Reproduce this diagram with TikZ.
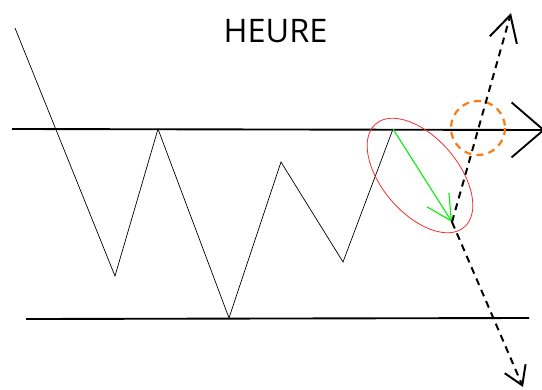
\documentclass[tikz,border=0pt]{standalone}
\usepackage{fontspec}
\newfontfamily\titlefont{Open Sans}
\usetikzlibrary{arrows.meta}
\definecolor{moveGreen}{RGB}{20,235,20}
\definecolor{zoneRed}{RGB}{240,50,50}
\definecolor{breakOrange}{RGB}{250,125,20}
\tikzset{
  levelline/.style = {line width=1.6pt},
  priceline/.style = {line width=0.6pt},
  movearr/.style   = {-{Straight Barb[length=7.5mm,width=7.8mm]},moveGreen,line width=1pt},
  scenario/.style  = {line width=1.7pt,dash pattern=on 6pt off 4.5pt},
  bigtip/.style    = {-{Straight Barb[length=7.8mm,width=8.4mm]}},
  smalltip/.style  = {-{Straight Barb[length=5.4mm,width=6.8mm]}}
}
\begin{document}
\begin{tikzpicture}[x=0.03cm,y=-0.03cm]
  \useasboundingbox (0,0) rectangle (542,389);
  \clip (0,0) rectangle (542,389);
  % price path
  \coordinate (p0) at (15,28);
  \coordinate (p1) at (115,276);
  \coordinate (p2) at (158,129);
  \coordinate (p3) at (229,318);
  \coordinate (p4) at (281,162);
  \coordinate (p5) at (343,262);
  \coordinate (p6) at (393,129);
  \coordinate (tip) at (452,222);
  % levels
  \coordinate (resL) at (12,129);
  \coordinate (resR) at (545,130);
  \coordinate (supL) at (26,319);
  \coordinate (supR) at (529,318);
  \coordinate (up) at (511,13);
  \coordinate (down) at (523,387);
  \node[font=\titlefont\fontsize{27.7}{30}\selectfont,inner sep=0pt] (title) at (275.5,31.5) {HEURE};
  \draw[levelline,-{Straight Barb[length=9.6mm,width=16.5mm]}] (resL) -- (resR);
  \draw[levelline] (supL) -- (supR);
  \draw[priceline] (p0) -- (p1) -- (p2) -- (p3) -- (p4) -- (p5) -- (p6);
  % zone and move
  \draw[zoneRed,line width=0.7pt,rotate around={-49.4:(420,175.5)}] (420,175.5) ellipse [x radius=68, y radius=38];
  \draw[movearr] (p6) -- (tip);
  \draw[breakOrange,line width=1.9pt,dash pattern=on 6pt off 4.5pt] (478,128) circle [radius=27];
  \draw[scenario,bigtip] (tip) -- (up);
  \draw[scenario,smalltip] (tip) -- (down);
\end{tikzpicture}
\end{document}
